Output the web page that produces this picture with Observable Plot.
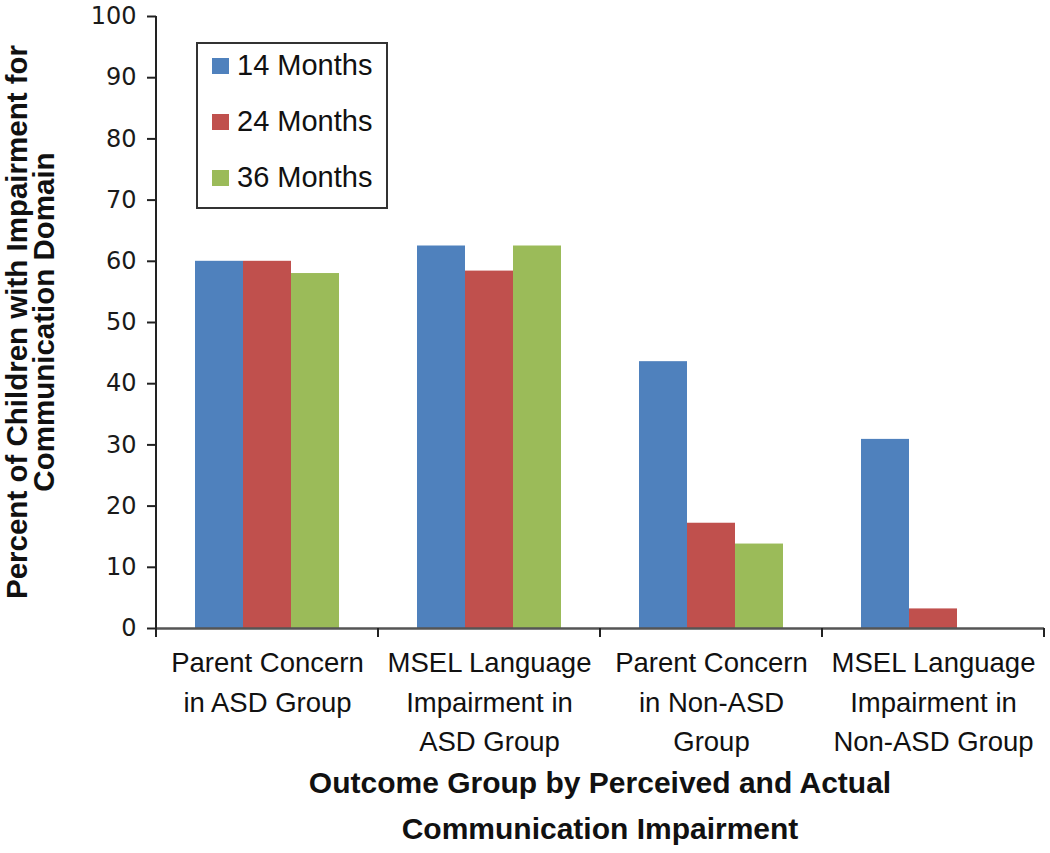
<!DOCTYPE html>
<html>
<head>
<meta charset="utf-8">
<script src="https://cdn.jsdelivr.net/npm/d3@7"></script>
<script src="https://cdn.jsdelivr.net/npm/@observablehq/plot@0.6"></script>
<style>
  html, body { margin: 0; padding: 0; background: #fff; }
  #wrap { position: relative; width: 1050px; height: 853px; }
  #wrap svg { position: absolute; left: 0; top: 0; }
  .ytitle { position: absolute; font-family: "Liberation Sans", Arial, sans-serif; font-weight: bold; font-size: 29.5px; color: #111; white-space: nowrap; transform: translate(-50%, -50%) rotate(-90deg); }
  .xtitle { position: absolute; left: 600px; transform: translateX(-50%); font-family: "Liberation Sans", Arial, sans-serif; font-weight: bold; font-size: 30px; color: #111; white-space: nowrap; }
  #legend { position: absolute; left: 196px; top: 42px; width: 188px; height: 163px; border: 2px solid #333; background: #fff; font-family: "Liberation Sans", Arial, sans-serif; font-size: 29px; color: #111; }
  #legend .item { position: absolute; left: 14px; display: flex; align-items: center; }
  #legend .sw { width: 17px; height: 16px; margin-right: 8px; }
</style>
</head>
<body>
<div id="wrap"></div>
<script>
const categories = [
  "Parent Concern\nin ASD Group",
  "MSEL Language\nImpairment in\nASD Group",
  "Parent Concern\nin Non-ASD\nGroup",
  "MSEL Language\nImpairment in\nNon-ASD Group"
];
const series = ["14 Months", "24 Months", "36 Months"];
const months14 = [60, 62.5, 43.6, 30.9];
const months24 = [60, 58.4, 17.2, 3.2];
const months36 = [58, 62.5, 13.8, 0];
const yTicks = [0, 10, 20, 30, 40, 50, 60, 70, 80, 90, 100];
const colors = ["#4F81BD", "#C0504D", "#9BBB59"];
const yTitle = ["Percent of Children with Impairment for", "Communication Domain"];
const xTitle = ["Outcome Group by Perceived and Actual", "Communication Impairment"];

const seriesValues = [months14, months24, months36];
const data = categories.flatMap((c, i) =>
  series.map((s, j) => ({category: c, series: s, value: seriesValues[j][i]}))
);

const plot = Plot.plot({
  width: 1050,
  height: 853,
  marginLeft: 155,
  marginRight: 5,
  marginTop: 16,
  marginBottom: 225,
  style: {background: "transparent", fontFamily: "Liberation Sans, Arial, sans-serif", color: "#111"},
  fx: {domain: categories, padding: 0, label: null},
  x: {domain: series, paddingInner: 0, paddingOuter: 0.77, axis: null},
  y: {domain: [0, 100], label: null},
  color: {domain: series, range: colors},
  marks: [
    Plot.barY(data, {fx: "category", x: "series", y: "value", fill: "series"}),
    Plot.ruleY([0], {stroke: "#555", strokeWidth: 2.5}),
    Plot.axisY({ticks: yTicks, tickSize: 9, tickPadding: 11, strokeWidth: 2, stroke: "#222",
                fontSize: 24, fontFamily: "DejaVu Sans", fill: "#1a1a1a", label: null}),
    Plot.axisFx({anchor: "bottom", tickSize: 0, tickPadding: 16, fontSize: 27.5, lineHeight: 1.43, fill: "#111", label: null,
                 fontFamily: "Liberation Sans, Arial, sans-serif"})
  ]
});

const wrap = document.getElementById("wrap");
wrap.appendChild(plot);

// y axis line and category boundary ticks, from the library's scales
const fx = plot.scale("fx");
const y = plot.scale("y");
const y0 = y.apply(0);
const x0 = fx.apply(categories[0]);
const bounds = categories.map(c => fx.apply(c)).concat([fx.apply(categories[categories.length - 1]) + fx.bandwidth]);
const svg = d3.select(plot);
const g = svg.append("g").attr("stroke", "#222").attr("stroke-width", 2);
g.append("line")
  .attr("x1", x0).attr("x2", x0)
  .attr("y1", y.apply(100)).attr("y2", y0);
g.selectAll("line.b")
  .data(bounds)
  .join("line")
  .attr("class", "b")
  .attr("x1", d => d).attr("x2", d => d)
  .attr("y1", y0).attr("y2", y0 + 9);

// axis titles
yTitle.forEach((t, i) => {
  const d = document.createElement("div");
  d.className = "ytitle";
  d.textContent = t;
  d.style.left = (17 + i * 27) + "px";
  d.style.top = "322px";
  wrap.appendChild(d);
});
xTitle.forEach((t, i) => {
  const d = document.createElement("div");
  d.className = "xtitle";
  d.textContent = t;
  d.style.top = (766 + i * 46) + "px";
  wrap.appendChild(d);
});

// legend
const legend = document.createElement("div");
legend.id = "legend";
series.forEach((s, i) => {
  const item = document.createElement("div");
  item.className = "item";
  item.style.top = (5 + i * 56) + "px";
  const sw = document.createElement("div");
  sw.className = "sw";
  sw.style.background = colors[i];
  const label = document.createElement("span");
  label.textContent = s;
  item.appendChild(sw);
  item.appendChild(label);
  legend.appendChild(item);
});
wrap.appendChild(legend);
</script>
</body>
</html>
